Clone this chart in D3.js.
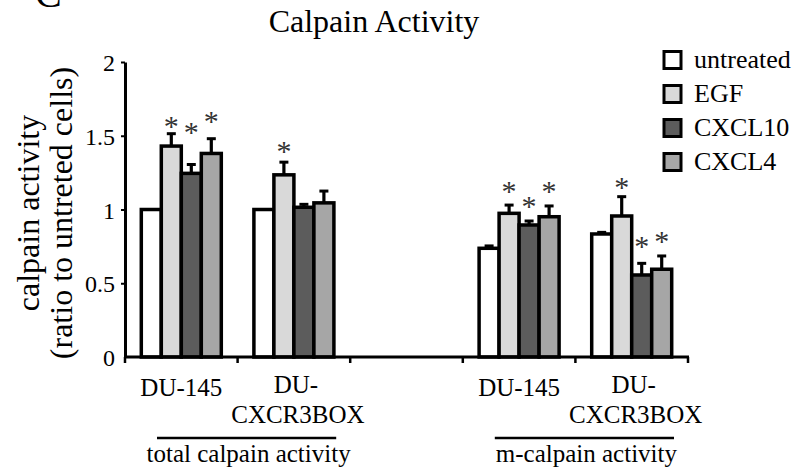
<!DOCTYPE html>
<html>
<head>
<meta charset="utf-8">
<script src="https://cdn.jsdelivr.net/npm/d3@7"></script>
<style>
  html, body { margin: 0; padding: 0; background: #fff; }
  svg { display: block; }
  svg text { font-family: "Liberation Serif", "Times New Roman", serif; fill: #000; }
</style>
</head>
<body>
<svg id="chart" width="794" height="470"></svg>
<script>
// Calpain activity, ratio to untreated cells
const treatments = ["untreated", "EGF", "CXCL10", "CXCL4"];
const slots = ["total-DU-145", "total-DU-CXCR3BOX", "gap", "m-DU-145", "m-DU-CXCR3BOX"];
const cellLines = ["DU-145", "DU-CXCR3BOX", "DU-145", "DU-CXCR3BOX"];
const barSlots = ["total-DU-145", "total-DU-CXCR3BOX", "m-DU-145", "m-DU-CXCR3BOX"];
const assays = ["total calpain activity", "m-calpain activity"];

// mean ratio per cell line (rows) and treatment (columns)
const means = [
  [1.00, 1.43, 1.245, 1.38],
  [1.00, 1.235, 1.015, 1.045],
  [0.737, 0.974, 0.895, 0.951],
  [0.834, 0.956, 0.556, 0.595]
];
// upper error (SD)
const errors = [
  [0.00, 0.084, 0.06, 0.10],
  [0.00, 0.086, 0.02, 0.08],
  [0.016, 0.056, 0.027, 0.073],
  [0.011, 0.131, 0.079, 0.09]
];
// level of the significance asterisk (null = not significant)
const starLevel = [
  [null, 1.595, 1.553, 1.629],
  [null, 1.426, null, null],
  [null, 1.155, 1.053, 1.151],
  [null, 1.178, 0.78, 0.812]
];
const yTicks = [0, 0.5, 1, 1.5, 2];
const colors = ["#ffffff", "#d9d9d9", "#5c5c5c", "#a6a6a6"];

const svg = d3.select("#chart");

const x = d3.scaleBand().domain(slots).range([125, 688]).paddingInner(0).paddingOuter(0);
const bw = x.bandwidth();
const xs = d3.scaleBand().domain(treatments).range([0, bw]).paddingInner(0).paddingOuter(0.815);
const y = d3.scaleLinear().domain([0, 2]).range([357, 62]);
const color = d3.scaleOrdinal().domain(treatments).range(colors);

// panel letter
svg.append("text").attr("x", 35).attr("y", 7).attr("font-size", 40).text("C");

// title
svg.append("text").attr("x", 374).attr("y", 32).attr("text-anchor", "middle")
  .attr("font-size", 32).text("Calpain Activity");

// bars
const rows = barSlots.map((s, i) => ({ slot: s, i }));
const groups = svg.append("g").selectAll("g").data(rows).join("g")
  .attr("transform", d => `translate(${x(d.slot)},0)`);

groups.selectAll("rect").data(d => treatments.map((t, j) => ({ t, v: means[d.i][j] })))
  .join("rect")
  .attr("x", d => xs(d.t))
  .attr("y", d => y(d.v))
  .attr("width", xs.bandwidth())
  .attr("height", d => y(0) - y(d.v))
  .attr("fill", d => color(d.t))
  .attr("stroke", "#000")
  .attr("stroke-width", 3.5);

// error bars (upper only)
const errs = groups.selectAll("g.err").data(d => treatments.map((t, j) => ({ t, v: means[d.i][j], e: errors[d.i][j] })))
  .join("g").attr("class", "err");
errs.append("line")
  .attr("x1", d => xs(d.t) + xs.bandwidth() / 2)
  .attr("x2", d => xs(d.t) + xs.bandwidth() / 2)
  .attr("y1", d => y(d.v))
  .attr("y2", d => y(d.v + d.e))
  .attr("stroke", "#000").attr("stroke-width", 3.2);
errs.append("line")
  .attr("x1", d => xs(d.t) + xs.bandwidth() / 2 - 4.5)
  .attr("x2", d => xs(d.t) + xs.bandwidth() / 2 + 4.5)
  .attr("y1", d => y(d.v + d.e))
  .attr("y2", d => y(d.v + d.e))
  .attr("stroke", "#000").attr("stroke-width", 3);

// significance asterisks
groups.selectAll("text.star")
  .data(d => treatments.map((t, j) => ({ t, s: starLevel[d.i][j] })).filter(o => o.s !== null))
  .join("text").attr("class", "star")
  .attr("x", d => xs(d.t) + xs.bandwidth() / 2)
  .attr("y", d => y(d.s) + 14)
  .attr("text-anchor", "middle")
  .attr("font-size", 30)
  .style("fill", "#333")
  .text("*");

// y axis
const yAxis = svg.append("g").attr("transform", "translate(125,0)")
  .call(d3.axisLeft(y).tickValues(yTicks).tickSize(4).tickSizeOuter(0).tickPadding(6)
    .tickFormat(d => d3.format("")(d)));
yAxis.select(".domain").attr("stroke", "#000").attr("stroke-width", 3);
yAxis.selectAll(".tick line").attr("stroke", "#000").attr("stroke-width", 2);
yAxis.selectAll(".tick text").attr("font-size", 24).attr("dy", "0.36em");
yAxis.selectAll(".tick").filter(d => d === 0).select("line").remove();

// x axis baseline with ticks at slot boundaries
const bounds = slots.map(s => x(s)).concat([x(slots[slots.length - 1]) + bw]);
svg.append("line").attr("x1", 124).attr("x2", bounds[bounds.length - 1] + 1)
  .attr("y1", y(0)).attr("y2", y(0)).attr("stroke", "#000").attr("stroke-width", 3);
svg.append("g").selectAll("line").data(bounds).join("line")
  .attr("x1", d => d).attr("x2", d => d)
  .attr("y1", y(0)).attr("y2", y(0) + 6)
  .attr("stroke", "#000").attr("stroke-width", 2.5);

// cell line labels
const lab = svg.append("g");
barSlots.forEach((s, i) => {
  const cx = x(s) + bw / 2;
  const name = cellLines[i];
  if (name.includes("-CXCR")) {
    lab.append("text").attr("x", cx + 2).attr("y", 393).attr("text-anchor", "middle")
      .attr("font-size", 25).text("DU-");
    lab.append("text").attr("x", cx + 4).attr("y", 423).attr("text-anchor", "middle")
      .attr("font-size", 25).text(name.slice(3));
  } else {
    lab.append("text").attr("x", cx).attr("y", 396).attr("text-anchor", "middle")
      .attr("font-size", 25).text(name);
  }
});

// assay brackets
assays.forEach((a, k) => {
  const s0 = barSlots[k * 2], s1 = barSlots[k * 2 + 1];
  const xa = x(s0) + 32, xb = x(s1) + bw - 14;
  svg.append("line").attr("x1", xa).attr("x2", xb).attr("y1", 438).attr("y2", 438)
    .attr("stroke", "#000").attr("stroke-width", 2.5);
  svg.append("text").attr("x", (xa + xb) / 2 + 2).attr("y", 462).attr("text-anchor", "middle")
    .attr("font-size", 25).text(a);
});

// y axis title
const yt = svg.append("g").attr("transform", "translate(0,213) rotate(-90)");
yt.append("text").attr("x", 0).attr("y", 39).attr("text-anchor", "middle")
  .attr("font-size", 32).text("calpain activity");
yt.append("text").attr("x", 0).attr("y", 72).attr("text-anchor", "middle")
  .attr("font-size", 32).text("(ratio to untreted cells)");

// legend
const legend = svg.append("g").selectAll("g").data(treatments).join("g")
  .attr("transform", (d, i) => `translate(664,${60 + i * 34})`);
legend.append("rect").attr("x", 0).attr("y", -8.5).attr("width", 17).attr("height", 17)
  .attr("fill", d => color(d)).attr("stroke", "#000").attr("stroke-width", 3);
legend.append("text").attr("x", 30).attr("y", 8).attr("font-size", 26).text(d => d);
</script>
</body>
</html>
